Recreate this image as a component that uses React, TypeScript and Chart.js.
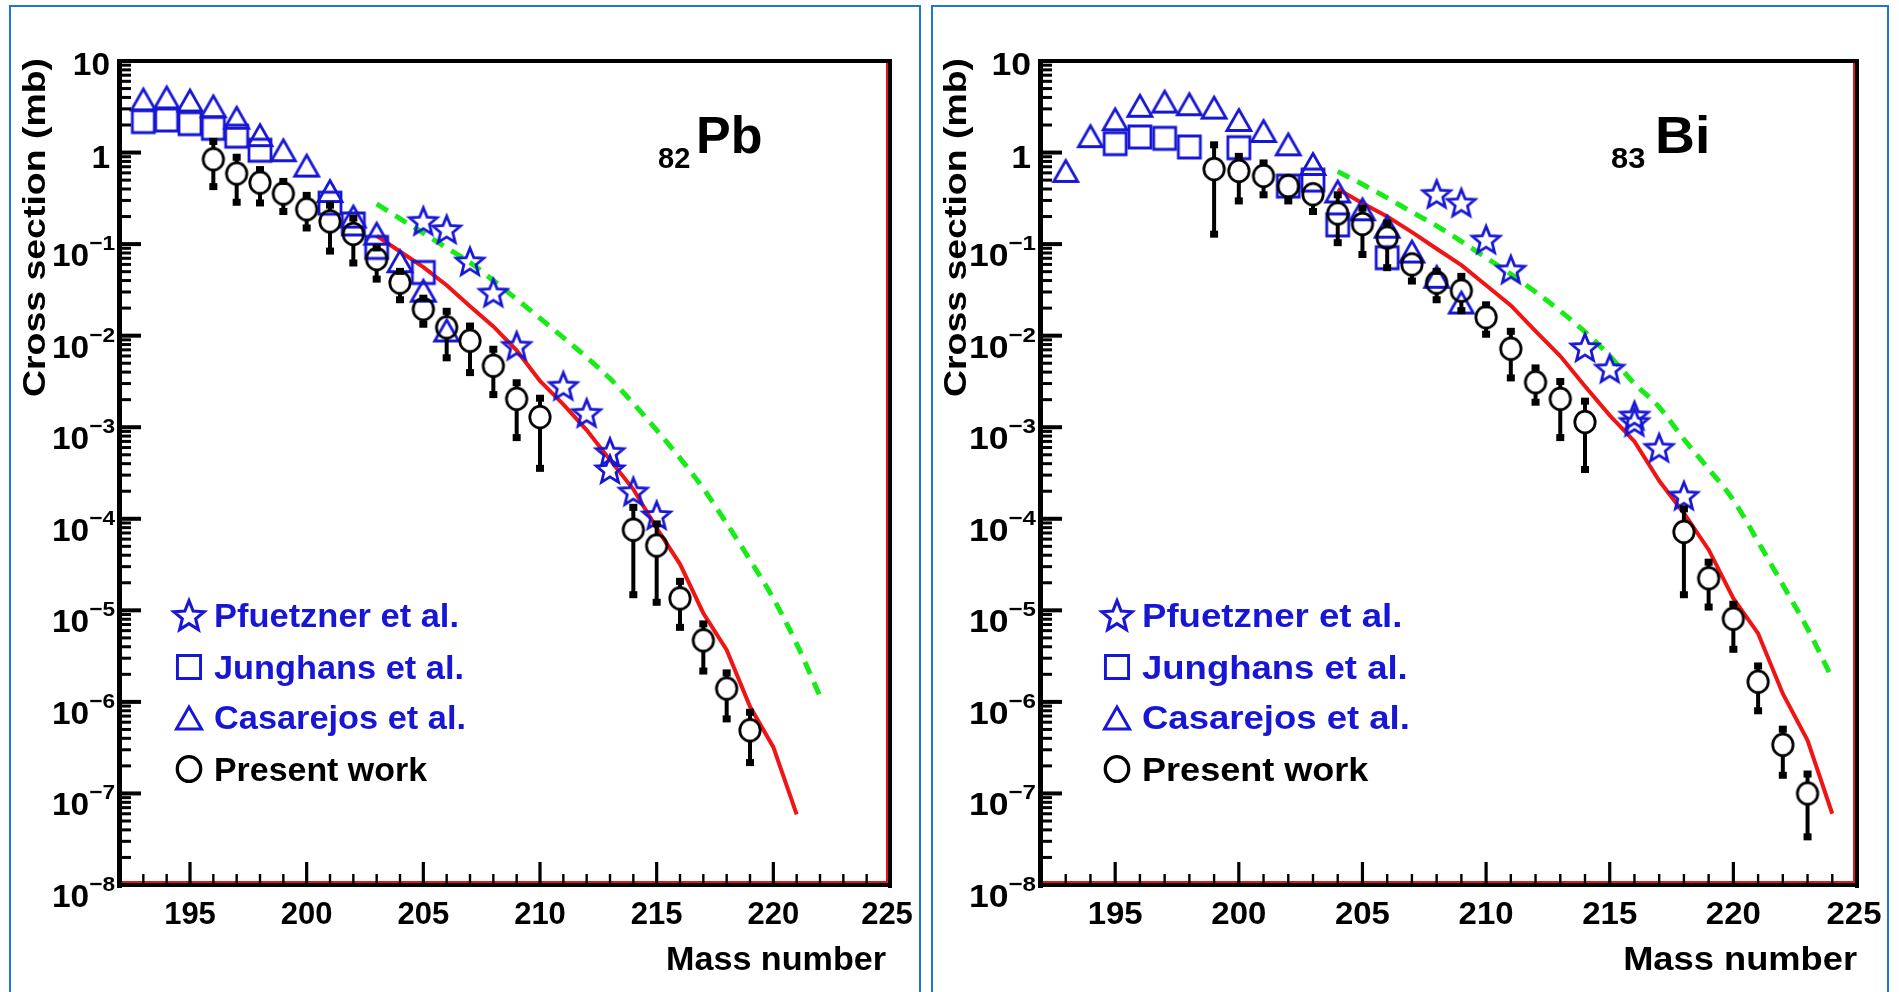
import React, { useEffect, useRef } from "react";
import { Chart, registerables } from "chart.js";

Chart.register(...registerables);

// ---------------- data: 82Pb ----------------
const pbPresentMass = [196, 197, 198, 199, 200, 201, 202, 203, 204, 205, 206, 207, 208, 209, 210, 214, 215, 216, 217, 218, 219];
const pbPresentValue = [0.845, 0.59, 0.47, 0.357, 0.24, 0.177, 0.129, 0.0686, 0.038, 0.0195, 0.0123, 0.0088, 0.0047, 0.00204, 0.00129, 7.6e-5, 5.1e-5, 1.35e-5, 4.7e-6, 1.4e-6, 4.9e-7];
const pbPresentLow = [0.43, 0.29, 0.285, 0.23, 0.152, 0.085, 0.063, 0.042, 0.025, 0.0135, 0.0058, 0.004, 0.0023, 0.00078, 0.00036, 1.5e-5, 1.24e-5, 6.6e-6, 2.2e-6, 6.6e-7, 2.2e-7];
const pbPresentHigh = [1.34, 0.9, 0.66, 0.49, 0.345, 0.27, 0.195, 0.092, 0.051, 0.026, 0.0187, 0.0129, 0.0072, 0.0031, 0.0021, 1.35e-4, 8.9e-5, 2.1e-5, 7.2e-6, 2.1e-6, 7.8e-7];

const pbPfuetznerMass = [205, 206, 207, 208, 209, 211, 212, 213, 213, 214, 215];
const pbPfuetznerValue = [0.18, 0.146, 0.065, 0.0297, 0.0078, 0.00285, 0.00144, 5.4e-4, 3.5e-4, 2.0e-4, 1.1e-4];

const pbJunghansMass = [193, 194, 195, 196, 197, 198, 201, 202, 203, 205];
const pbJunghansValue = [2.18, 2.27, 2.07, 1.84, 1.51, 1.06, 0.28, 0.166, 0.092, 0.049];

const pbCasarejosMass = [193, 194, 195, 196, 197, 198, 199, 200, 201, 202, 203, 204, 205, 206];
const pbCasarejosValue = [3.8, 4.0, 3.7, 3.2, 2.4, 1.55, 1.06, 0.72, 0.38, 0.2, 0.13, 0.065, 0.031, 0.0114];

const pbModelMass = [203, 204, 205, 206, 207, 208, 209, 210, 211, 212, 213, 214, 215, 216, 217, 218, 219, 220, 221];
const pbModelValue = [0.123, 0.083, 0.056, 0.0355, 0.0209, 0.0126, 0.0069, 0.0032, 0.00178, 0.00093, 0.00044, 0.00021, 7.9e-5, 3.2e-5, 9.3e-6, 3.7e-6, 8.9e-7, 3.2e-7, 5.9e-8];

const pbEpaxMass = [203, 204, 205, 206, 207, 208, 209, 210, 211, 212, 213, 214, 215, 216, 217, 218, 219, 220, 221, 222];
const pbEpaxValue = [0.275, 0.19, 0.132, 0.091, 0.063, 0.04, 0.025, 0.0155, 0.0095, 0.0058, 0.0034, 0.00182, 9.3e-4, 4.6e-4, 2.14e-4, 8.9e-5, 3.55e-5, 1.35e-5, 4.3e-6, 1.15e-6];

// ---------------- data: 83Bi ----------------
const biPresentMass = [199, 200, 201, 202, 203, 204, 205, 206, 207, 208, 209, 210, 211, 212, 213, 214, 218, 219, 220, 221, 222, 223];
const biPresentValue = [0.66, 0.63, 0.556, 0.43, 0.35, 0.216, 0.166, 0.118, 0.06, 0.038, 0.031, 0.0159, 0.0072, 0.0031, 0.00204, 0.00114, 7.2e-5, 2.24e-5, 8.1e-6, 1.66e-6, 3.4e-7, 1.0e-7];
const biPresentLow = [0.13, 0.3, 0.35, 0.3, 0.23, 0.105, 0.078, 0.056, 0.04, 0.025, 0.019, 0.0105, 0.0035, 0.0019, 0.00078, 0.00035, 1.5e-5, 1.1e-5, 3.8e-6, 8.1e-7, 1.6e-7, 3.4e-8];
const biPresentHigh = [1.23, 0.92, 0.78, 0.556, 0.45, 0.35, 0.25, 0.172, 0.078, 0.051, 0.045, 0.022, 0.0113, 0.0045, 0.0032, 0.00195, 1.3e-4, 3.4e-5, 1.18e-5, 2.5e-6, 5.1e-7, 1.65e-7];

const biPfuetznerMass = [208, 209, 210, 211, 214, 215, 216, 216, 217, 218];
const biPfuetznerValue = [0.355, 0.285, 0.113, 0.053, 0.0075, 0.0044, 0.00135, 0.00115, 6.0e-4, 1.8e-4];

const biJunghansMass = [195, 196, 197, 198, 200, 202, 203, 204, 206];
const biJunghansValue = [1.25, 1.48, 1.43, 1.15, 1.13, 0.43, 0.5, 0.162, 0.071];

const biCasarejosMass = [193, 194, 195, 196, 197, 198, 199, 200, 201, 202, 203, 204, 205, 206, 207, 208, 209];
const biCasarejosValue = [0.63, 1.51, 2.31, 3.24, 3.6, 3.37, 3.1, 2.27, 1.72, 1.23, 0.75, 0.376, 0.24, 0.155, 0.083, 0.044, 0.023];

const biModelMass = [204, 205, 206, 207, 208, 209, 210, 211, 212, 213, 214, 215, 216, 217, 218, 219, 220, 221, 222, 223, 224];
const biModelValue = [0.4, 0.28, 0.2, 0.135, 0.089, 0.059, 0.0355, 0.0214, 0.0112, 0.006, 0.0028, 0.00135, 7.0e-4, 2.6e-4, 1.15e-4, 4.6e-5, 1.35e-5, 5.6e-6, 1.23e-6, 3.8e-7, 6.0e-8];

const biEpaxMass = [204, 205, 206, 207, 208, 209, 210, 211, 212, 213, 214, 215, 216, 217, 218, 219, 220, 221, 222, 223, 224];
const biEpaxValue = [0.62, 0.45, 0.32, 0.224, 0.158, 0.107, 0.071, 0.047, 0.03, 0.0186, 0.011, 0.006, 0.003, 0.00166, 7.4e-4, 3.5e-4, 1.6e-4, 5.6e-5, 1.9e-5, 6.3e-6, 1.8e-6];

// ---------------- axes ----------------
const xMin = 192;
const xMax = 225;
const xTickLabels = [195, 200, 205, 210, 215, 220, 225];
const yTickExponents = [1, 0, -1, -2, -3, -4, -5, -6, -7, -8];
const legendLabels = ["Pfuetzner et al.", "Junghans et al.", "Casarejos et al.", "Present work"];
const yTitle = "Cross section (mb)";
const xTitle = "Mass number";

// ---------------- styles ----------------
const BLUE = "rgb(22,22,212)";
const FONT = "'Liberation Sans', Arial, Helvetica, sans-serif";

type Marker = "circle" | "square" | "triangle" | "star";

function makeMarker(kind: Marker, color: string, s = 1): HTMLCanvasElement {
  const size = Math.ceil(36 * s);
  const c = document.createElement("canvas");
  c.width = size;
  c.height = size;
  const ctx = c.getContext("2d")!;
  ctx.strokeStyle = color;
  ctx.lineWidth = 2.8 * s;
  ctx.lineJoin = "miter";
  const m = size / 2;
  ctx.beginPath();
  if (kind === "circle") {
    ctx.ellipse(m, m, 10.2 * s, 10.8 * s, 0, 0, Math.PI * 2);
  } else if (kind === "square") {
    ctx.rect(m - 11 * s, m - 11 * s, 22 * s, 22 * s);
  } else if (kind === "triangle") {
    const h = 21 * s;
    const w = 24 * s;
    ctx.moveTo(m, m - h / 2);
    ctx.lineTo(m + w / 2, m + h / 2);
    ctx.lineTo(m - w / 2, m + h / 2);
    ctx.closePath();
  } else {
    const R = 14.5 * s;
    const r = 6.4 * s;
    for (let i = 0; i < 10; i++) {
      const ang = -Math.PI / 2 + (i * Math.PI) / 5;
      const rad = i % 2 === 0 ? R : r;
      const px = m + Math.cos(ang) * rad;
      const py = m + 1.5 * s + Math.sin(ang) * rad;
      if (i === 0) ctx.moveTo(px, py);
      else ctx.lineTo(px, py);
    }
    ctx.closePath();
  }
  ctx.stroke();
  return c;
}

function drawText(
  ctx: CanvasRenderingContext2D,
  text: string,
  x: number,
  y: number,
  font: string,
  color: string,
  align: "left" | "right" | "center",
  hs: number
): number {
  ctx.save();
  ctx.font = font;
  ctx.fillStyle = color;
  ctx.textBaseline = "alphabetic";
  ctx.textAlign = "left";
  const w = ctx.measureText(text).width * hs;
  const x0 = align === "left" ? x : align === "right" ? x - w : x - w / 2;
  ctx.translate(x0, y);
  ctx.scale(hs, 1);
  ctx.fillText(text, 0, 0);
  ctx.restore();
  return w;
}

function drawFitted(ctx: CanvasRenderingContext2D, text: string, x: number, y: number, font: string, color: string, width: number, align: "left" | "right") {
  ctx.save();
  ctx.font = font;
  const w = ctx.measureText(text).width;
  drawText(ctx, text, x, y, font, color, align, width / w);
  ctx.restore();
}

interface PanelSpec {
  sym: string;
  z: string;
  present: { mass: number[]; value: number[]; low: number[]; high: number[] };
  pfuetzner: { mass: number[]; value: number[] };
  junghans: { mass: number[]; value: number[] };
  casarejos: { mass: number[]; value: number[] };
  model: { mass: number[]; value: number[] };
  epax: { mass: number[]; value: number[] };
  canvasLeft: number;
  canvasWidth: number;
  area: { left: number; top: number; right: number; bottom: number };
  hs: number;
  legendMarkerX: number;
  legendTextX: number;
  symX: number;
  zX: number;
  yTitleX: number;
  massRight: number;
}

const panels: PanelSpec[] = [
  {
    sym: "Pb",
    z: "82",
    present: { mass: pbPresentMass, value: pbPresentValue, low: pbPresentLow, high: pbPresentHigh },
    pfuetzner: { mass: pbPfuetznerMass, value: pbPfuetznerValue },
    junghans: { mass: pbJunghansMass, value: pbJunghansValue },
    casarejos: { mass: pbCasarejosMass, value: pbCasarejosValue },
    model: { mass: pbModelMass, value: pbModelValue },
    epax: { mass: pbEpaxMass, value: pbEpaxValue },
    canvasLeft: 0,
    canvasWidth: 926,
    area: { left: 120, top: 61, right: 890, bottom: 885 },
    hs: 1,
    legendMarkerX: 189,
    legendTextX: 214,
    symX: 696,
    zX: 658,
    yTitleX: 45,
    massRight: 886,
  },
  {
    sym: "Bi",
    z: "83",
    present: { mass: biPresentMass, value: biPresentValue, low: biPresentLow, high: biPresentHigh },
    pfuetzner: { mass: biPfuetznerMass, value: biPfuetznerValue },
    junghans: { mass: biJunghansMass, value: biJunghansValue },
    casarejos: { mass: biCasarejosMass, value: biCasarejosValue },
    model: { mass: biModelMass, value: biModelValue },
    epax: { mass: biEpaxMass, value: biEpaxValue },
    canvasLeft: 926,
    canvasWidth: 973,
    area: { left: 115, top: 61, right: 931, bottom: 885 },
    hs: 1.063,
    legendMarkerX: 191,
    legendTextX: 216,
    symX: 729,
    zX: 685,
    yTitleX: 40,
    massRight: 931,
  },
];

const toPoints = (mass: number[], value: number[]) => mass.map((m, i) => ({ x: m, y: value[i] }));

function buildChart(canvas: HTMLCanvasElement, spec: PanelSpec) {
  const mk = {
    circle: makeMarker("circle", "#000"),
    square: makeMarker("square", BLUE),
    triangle: makeMarker("triangle", BLUE),
    star: makeMarker("star", BLUE),
  };
  const lg = {
    star: makeMarker("star", BLUE, 1.1),
    square: makeMarker("square", BLUE, 1.05),
    triangle: makeMarker("triangle", BLUE, 1.05),
    circle: makeMarker("circle", "#000", 1.15),
  };

  const pointDs = (label: string, pts: any[], style: HTMLCanvasElement, extra: any = {}) => ({
    label,
    data: pts,
    showLine: false,
    pointStyle: style,
    pointRadius: 10,
    pointHoverRadius: 10,
    ...extra,
  });

  const datasets: any[] = [
    pointDs("Present work", toPoints(spec.present.mass, spec.present.value), mk.circle, {
      errLow: spec.present.low,
      errHigh: spec.present.high,
    }),
    pointDs("Pfuetzner et al.", toPoints(spec.pfuetzner.mass, spec.pfuetzner.value), mk.star),
    pointDs("Junghans et al.", toPoints(spec.junghans.mass, spec.junghans.value), mk.square),
    pointDs("Casarejos et al.", toPoints(spec.casarejos.mass, spec.casarejos.value), mk.triangle),
    {
      label: "model",
      data: toPoints(spec.model.mass, spec.model.value),
      showLine: true,
      borderColor: "rgb(240,20,20)",
      borderWidth: 4,
      pointRadius: 0,
      tension: 0,
      fill: false,
    },
    {
      label: "epax",
      data: toPoints(spec.epax.mass, spec.epax.value),
      showLine: true,
      borderColor: "rgb(25,235,25)",
      borderWidth: 5,
      borderDash: [13, 9],
      borderCapStyle: "butt",
      pointRadius: 0,
      tension: 0.4,
      cubicInterpolationMode: "monotone",
      fill: false,
    },
  ];

  const panelPlugin = {
    id: "panelDecor",
    afterDatasetsDraw(chart: any) {
      const ctx: CanvasRenderingContext2D = chart.ctx;
      const ys = chart.scales.y;
      ctx.save();
      chart.data.datasets.forEach((ds: any, i: number) => {
        if (!ds.errLow) return;
        const meta = chart.getDatasetMeta(i);
        meta.data.forEach((el: any, j: number) => {
          const x = el.x;
          const y = el.y;
          const yl = ys.getPixelForValue(ds.errLow[j]);
          const yh = ys.getPixelForValue(ds.errHigh[j]);
          ctx.fillStyle = "#000";
          if (yl > y + 11) {
            ctx.fillRect(x - 2, y + 10, 4, yl - y - 10);
            ctx.fillRect(x - 4, yl - 3, 8, 7);
          }
          if (yh < y - 11) {
            ctx.fillRect(x - 2, yh, 4, y - 10 - yh);
            ctx.fillRect(x - 4, yh - 3, 8, 7);
          }
        });
      });
      ctx.restore();
    },
    afterDraw(chart: any) {
      const ctx: CanvasRenderingContext2D = chart.ctx;
      const a = chart.chartArea;
      const xs = chart.scales.x;
      const ys = chart.scales.y;
      const hs = spec.hs;
      ctx.save();
      // frame
      ctx.fillStyle = "rgb(225,25,25)";
      ctx.fillRect(a.right - 4, a.top + 2, 2, a.bottom - a.top - 3);
      ctx.fillRect(a.left + 2, a.bottom - 4, a.right - a.left - 5, 2);
      ctx.fillStyle = "#000";
      ctx.fillRect(a.left - 2, a.top - 2, a.right - a.left + 4, 4);
      ctx.fillRect(a.left - 3, a.top - 2, 5, a.bottom - a.top + 5);
      ctx.fillRect(a.right - 2, a.top - 2, 4, a.bottom - a.top + 5);
      ctx.fillRect(a.left - 3, a.bottom - 2, a.right - a.left + 5, 4);

      // y ticks
      for (const e of yTickExponents) {
        const py = ys.getPixelForValue(Math.pow(10, e));
        ctx.fillRect(a.left, py - 2, 21, 4);
        if (e > -8) {
          for (let m = 2; m <= 9; m++) {
            const p = ys.getPixelForValue(m * Math.pow(10, e - 1));
            ctx.fillRect(a.left, p - 1.5, 11, 3);
          }
        }
      }
      // x ticks
      for (let A = xMin + 1; A < xMax; A++) {
        const px = xs.getPixelForValue(A);
        if (A % 5 === 0) ctx.fillRect(px - 1.6, a.bottom - 23, 3.2, 23);
        else ctx.fillRect(px - 1.2, a.bottom - 11, 2.4, 11);
      }

      // y labels
      const lab = `bold 31px ${FONT}`;
      const sup = `bold 21px ${FONT}`;
      const yhs = hs * 1.08;
      for (const e of yTickExponents) {
        const py = ys.getPixelForValue(Math.pow(10, e));
        if (e === 1) drawText(ctx, "10", a.left - 10, py + 14, lab, "#000", "right", yhs);
        else if (e === 0) drawText(ctx, "1", a.left - 10, py + 15, lab, "#000", "right", yhs);
        else {
          const supW = drawText(ctx, "\u2212" + Math.abs(e), a.left - 5, py + 6, sup, "#000", "right", yhs);
          drawText(ctx, "10", a.left - 5 - supW, py + 22, lab, "#000", "right", yhs);
        }
      }
      // x labels
      for (const t of xTickLabels) {
        const px = xs.getPixelForValue(t);
        drawText(ctx, String(t), t === xMax ? px - 3 : px, 924, `bold 31px ${FONT}`, "#000", "center", hs);
      }
      // axis titles
      drawFitted(ctx, xTitle, spec.massRight, 970, `bold 33px ${FONT}`, "#000", 220 * hs, "right");
      ctx.save();
      ctx.translate(spec.yTitleX, 397);
      ctx.rotate(-Math.PI / 2);
      drawFitted(ctx, yTitle, 0, 0, `bold 32px ${FONT}`, "#000", 339, "left");
      ctx.restore();

      // element label
      drawText(ctx, spec.sym, spec.symX, 153, `bold 52px ${FONT}`, "#000", "left", hs);
      drawText(ctx, spec.z, spec.zX, 168, `bold 29px ${FONT}`, "#000", "left", hs);

      // legend
      const rowsY = [615, 667, 718, 769];
      const baseY = [627, 679, 729, 781];
      const icons = [lg.star, lg.square, lg.triangle, lg.circle];
      const widths = [245, 250, 252, 213];
      legendLabels.forEach((label, i) => {
        const ic = icons[i];
        ctx.drawImage(ic, spec.legendMarkerX - ic.width / 2, rowsY[i] - ic.height / 2);
        drawFitted(ctx, label, spec.legendTextX, baseY[i], `bold 34px ${FONT}`, i < 3 ? BLUE : "#000", widths[i] * hs, "left");
      });
      ctx.restore();
    },
  };

  const a = spec.area;
  return new Chart(canvas, {
    type: "scatter",
    data: { datasets },
    options: {
      animation: false,
      responsive: false,
      devicePixelRatio: 1,
      events: [],
      layout: {
        padding: { left: a.left, top: a.top, right: spec.canvasWidth - a.right, bottom: 992 - a.bottom },
      },
      scales: {
        x: { type: "linear", min: xMin, max: xMax, display: false },
        y: { type: "logarithmic", min: 1e-8, max: 10, display: false },
      },
      plugins: { legend: { display: false }, tooltip: { enabled: false } },
    } as any,
    plugins: [panelPlugin],
  } as any);
}

function Panel({ spec }: { spec: PanelSpec }) {
  const ref = useRef<HTMLCanvasElement>(null);
  useEffect(() => {
    if (!ref.current) return;
    const chart = buildChart(ref.current, spec);
    return () => chart.destroy();
  }, [spec]);
  return (
    <canvas
      ref={ref}
      width={spec.canvasWidth}
      height={992}
      style={{ position: "absolute", left: spec.canvasLeft, top: 0, width: spec.canvasWidth, height: 992 }}
    />
  );
}

export default function App() {
  const border = "2px solid rgb(30,120,210)";
  return (
    <div style={{ position: "absolute", left: 0, top: 0, width: 1899, height: 992, overflow: "hidden", background: "#fff" }}>
      <div style={{ position: "absolute", left: 9, top: 5, width: 912, height: 1100, border, boxSizing: "border-box" }} />
      <div style={{ position: "absolute", left: 931, top: 5, width: 958, height: 1100, border, boxSizing: "border-box" }} />
      {panels.map((p) => (
        <Panel key={p.sym} spec={p} />
      ))}
    </div>
  );
}
